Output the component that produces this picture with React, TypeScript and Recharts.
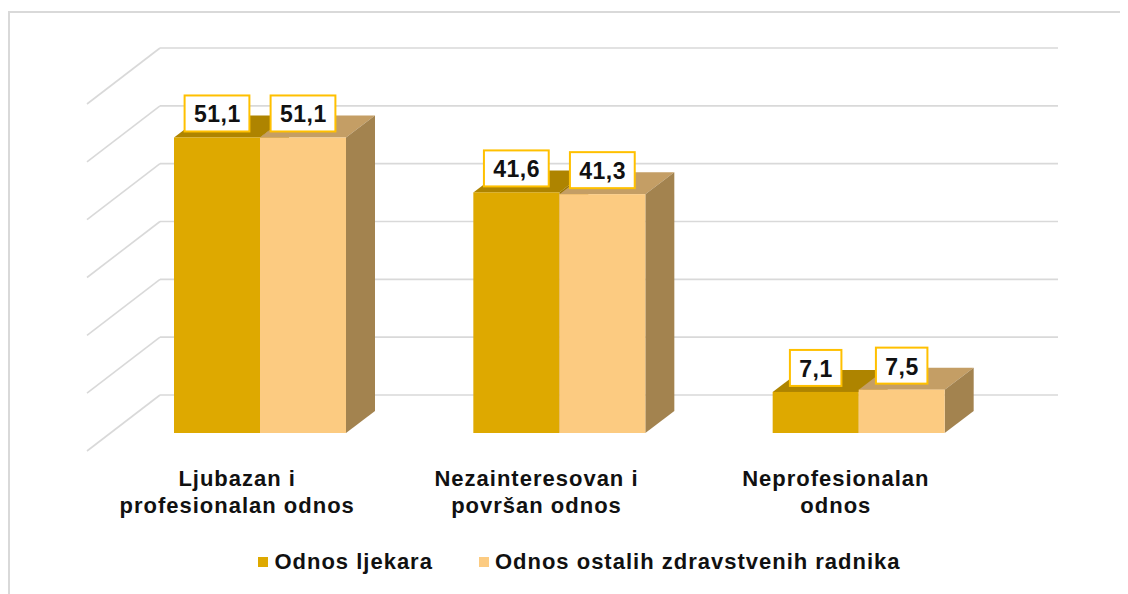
import { Bar, BarChart, CartesianGrid, LabelList, Legend, XAxis, YAxis } from 'recharts';

const categories = ['Ljubazan i profesionalan odnos', 'Nezainteresovan i površan odnos', 'Neprofesionalan odnos'];
const tickLines = [
  ['Ljubazan i', 'profesionalan odnos'],
  ['Nezainteresovan i', 'površan odnos'],
  ['Neprofesionalan', 'odnos'],
];
const ljekari = [51.1, 41.6, 7.1];
const ostali = [51.1, 41.3, 7.5];
const yTicks = [0, 10, 20, 30, 40, 50, 60];
const seriesNames = ['Odnos ljekara', 'Odnos ostalih zdravstvenih radnika'];

const data = categories.map((name, i) => ({ name, ljekari: ljekari[i], ostali: ostali[i] }));

const FONT = '"Liberation Sans", Arial, sans-serif';
const TEXT = '#111111';
const GRID = '#d9d9d9';

// 3d depth of the bars and of the back wall
const BAR_DX = 29;
const BAR_DY = 22;
const WALL_DX = 50;
const WALL_DY = 38;
const FLOOR_DX = -73;
const FLOOR_DY = 56;

const palette = [
  { front: '#DEA900', top: '#AE8400', side: '#9A7400' },
  { front: '#FCCB81', top: '#C49E65', side: '#A3834F' },
];

function WallLine(props: any) {
  const { x1, x2, y1, index } = props;
  const bx = x1 + WALL_DX;
  const by = y1 - WALL_DY;
  return (
    <g key={`wall-${index}`}>
      <line x1={bx} y1={by} x2={x2 + WALL_DX} y2={by} stroke={GRID} strokeWidth={1.6} />
      <line x1={bx} y1={by} x2={bx + FLOOR_DX} y2={by + FLOOR_DY} stroke={GRID} strokeWidth={1.6} />
    </g>
  );
}

function Bar3D(props: any) {
  const { x, y, width, height, colors } = props;
  if (!height || height <= 0) return null;
  const r = x + width;
  const b = y + height;
  return (
    <g>
      <path d={`M${x},${y} L${x + BAR_DX},${y - BAR_DY} L${r + BAR_DX},${y - BAR_DY} L${r},${y} Z`} fill={colors.top} />
      <path d={`M${r},${y} L${r + BAR_DX},${y - BAR_DY} L${r + BAR_DX},${b - BAR_DY} L${r},${b} Z`} fill={colors.side} />
      <rect x={x} y={y} width={width} height={height} fill={colors.front} />
    </g>
  );
}

function ValueBox(props: any) {
  const vb = props.viewBox ?? props;
  const x = props.x ?? vb.x;
  const y = props.y ?? vb.y;
  const width = props.width ?? vb.width;
  const text = Number(props.value).toFixed(1).replace('.', ',');
  let tw = 0;
  for (const ch of text) tw += ch === ',' ? 6.9 : 13.3;
  const w = tw + 18;
  const h = 36;
  const cx = x + width / 2;
  const bottom = y - 6;
  return (
    <g>
      <rect x={cx - w / 2} y={bottom - h} width={w} height={h} fill="#ffffff" stroke="#FFC000" strokeWidth={2} />
      <text
        x={cx + 0.3}
        y={bottom - h + 27}
        textAnchor="middle"
        fontFamily={FONT}
        fontSize={23}
        fontWeight={700}
        letterSpacing={0.5}
        fill={TEXT}
      >
        {text}
      </text>
    </g>
  );
}

function CategoryTick(props: any) {
  const { x, y, payload } = props;
  const lines = tickLines[payload.index] ?? [payload.value];
  // labels sit on the front edge of the floor, not under the bar faces
  const cx = x + WALL_DX + FLOOR_DX + 0.5;
  return (
    <g>
      {lines.map((line: string, i: number) => (
        <text
          key={i}
          x={cx}
          y={y + 53 + i * 27}
          textAnchor="middle"
          fontFamily={FONT}
          fontSize={22}
          fontWeight={700}
          letterSpacing={1}
          fill={TEXT}
        >
          {line}
        </text>
      ))}
    </g>
  );
}

function LegendBox(props: any) {
  const items = props.payload?.length
    ? props.payload.map((p: any, i: number) => ({ name: p.value, color: palette[i].front }))
    : seriesNames.map((name, i) => ({ name, color: palette[i].front }));
  return (
    <div
      style={{
        display: 'flex',
        justifyContent: 'center',
        paddingLeft: 23,
        fontFamily: FONT,
        fontSize: 22,
        fontWeight: 700,
        letterSpacing: 1,
        lineHeight: '26px',
        color: TEXT,
      }}
    >
      {items.map((it: any, i: number) => (
        <div key={it.name} style={{ display: 'flex', alignItems: 'center', marginLeft: i ? 46 : 0 }}>
          <span style={{ display: 'inline-block', width: 10, height: 10, background: it.color, marginRight: 6 }} />
          <span>{it.name}</span>
        </div>
      ))}
    </div>
  );
}

export default function App() {
  return (
    <div style={{ position: 'relative', width: 1120, height: 586, overflow: 'hidden', background: '#fff' }}>
      <div
        style={{
          position: 'absolute',
          left: 0,
          top: 3,
          width: 1160,
          height: 640,
          border: `2px solid ${GRID}`,
          boxSizing: 'border-box',
        }}
      />
      <div style={{ position: 'absolute', left: 0, top: 0 }}>
        <BarChart
          width={1120}
          height={586}
          data={data}
          margin={{ top: 78, right: 120, left: 102, bottom: 101 }}
          barGap={0}
          barSize={86}
        >
          <CartesianGrid vertical={false} horizontal={WallLine} />
          <XAxis
            dataKey="name"
            interval={0}
            height={60}
            tickLine={false}
            axisLine={false}
            tickSize={0}
            tickMargin={0}
            tick={CategoryTick}
          />
          <YAxis hide domain={[0, 60]} ticks={yTicks} />
          <Legend
            layout="horizontal"
            verticalAlign="middle"
            align="center"
            wrapperStyle={{ top: 541, left: 0, width: 1120 }}
            content={LegendBox}
          />
          <Bar
            dataKey="ljekari"
            name={seriesNames[0]}
            fill={palette[0].front}
            isAnimationActive={false}
            shape={(p: any) => <Bar3D {...p} colors={palette[0]} />}
          >
            <LabelList dataKey="ljekari" content={ValueBox} />
          </Bar>
          <Bar
            dataKey="ostali"
            name={seriesNames[1]}
            fill={palette[1].front}
            isAnimationActive={false}
            shape={(p: any) => <Bar3D {...p} colors={palette[1]} />}
          >
            <LabelList dataKey="ostali" content={ValueBox} />
          </Bar>
        </BarChart>
      </div>
    </div>
  );
}
